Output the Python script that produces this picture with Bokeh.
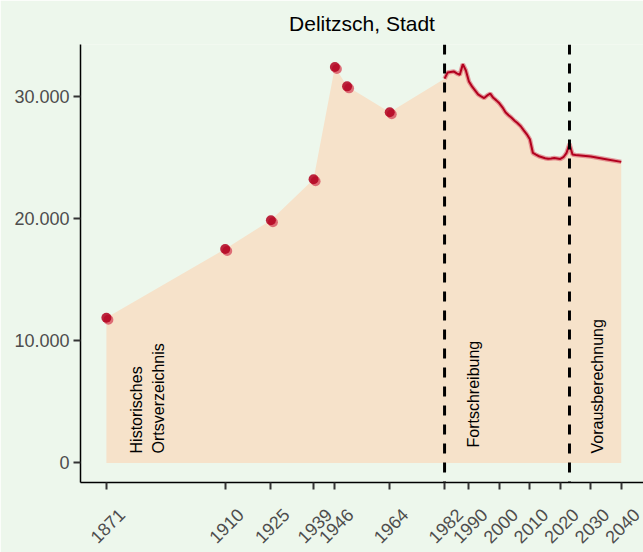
import math
from bokeh.plotting import figure
from bokeh.models import Range1d, FixedTicker, Span, ColumnDataSource, LinearAxis
from bokeh.core.properties import value
from bokeh.embed import file_html
from bokeh.resources import INLINE

# ---- data ----
title_text = "Delitzsch, Stadt"

hist_years = [1871, 1910, 1925, 1939, 1946, 1950, 1964]
hist_pop = [11900, 17540, 19900, 23260, 32460, 30870, 28740]

fort_years = list(range(1982, 2024))
fort_pop = [31500, 32010, 32050, 32090, 31930, 31820, 32690, 32170, 31270, 30870,
            30540, 30210, 30050, 29910, 30130, 30270, 29930, 29720, 29480, 29150,
            28740, 28500, 28290, 28050, 27840, 27600, 27260, 26940, 26530, 25410,
            25270, 25140, 25060, 24980, 24940, 24960, 25000, 24960, 24920, 25060,
            25390, 26150]

proj_years = [2024, 2025, 2030, 2035, 2040]
proj_pop = [25280, 25240, 25120, 24900, 24680]

x_ticks = [1871, 1910, 1925, 1939, 1946, 1964, 1982, 1990, 2000, 2010, 2020, 2030, 2040]
x_tick_labels = [str(y) for y in x_ticks]
y_ticks = [0, 10000, 20000, 30000]
y_tick_labels = ["0", "10.000", "20.000", "30.000"]

period_breaks = [1982, 2023]
period_labels = ["Historisches\nOrtsverzeichnis", "Fortschreibung", "Vorausberechnung"]
period_label_x = [1884.5, 1991.5, 2032.1]
period_label_y = [780, 1270, 780]

# ---- styling ----
BG = "#EDF7EC"
AREA = "#F6E2CA"
RED = "#B2001E"
LIGHT_RED = "#DA5F6B"
FONT = "Liberation Sans"
X0, X1 = 1862.5, 2047.3
Y0, Y1 = -1600, 34300
LABEL_SHIFT = 5.0  # years: moves the rotated label's end right so it is centred on its tick

p = figure(width=643, height=552, output_backend="svg", toolbar_location=None,
           x_range=Range1d(X0, X1), y_range=Range1d(Y0, Y1),
           min_border_left=80, min_border_right=0, min_border_top=43,
           min_border_bottom=70)
p.background_fill_color = BG
p.border_fill_color = BG
p.outline_line_color = None
p.grid.visible = False

p.title.text = title_text
p.title.align = "center"
p.title.text_font = FONT
p.title.text_font_size = "21px"
p.title.text_font_style = "normal"
p.title.text_color = "black"
p.title.standoff = 19

all_years = hist_years + fort_years + proj_years
all_pop = hist_pop + fort_pop + proj_pop
p.varea(x=all_years, y1=[0] * len(all_years), y2=all_pop, fill_color=AREA)

line_years = fort_years + proj_years
line_pop = fort_pop + proj_pop
p.line(line_years, line_pop, line_color=LIGHT_RED, line_width=4.5, line_alpha=0.6)
p.line(line_years, line_pop, line_color=RED, line_width=2)

# points: lighter companion slightly offset, dark on top
dx_years = 2.0 / 3.047
dy_pop = 2.0 * 1000 / 12.23
p.extra_x_ranges["shift_x"] = Range1d(X0 - dx_years, X1 - dx_years)
p.extra_y_ranges["shift_y"] = Range1d(Y0 + dy_pop, Y1 + dy_pop)
p.scatter(hist_years, hist_pop, size=10, fill_color=LIGHT_RED, fill_alpha=0.9,
          line_color=None, x_range_name="shift_x", y_range_name="shift_y")
p.scatter(hist_years, hist_pop, size=10, fill_color=RED, fill_alpha=0.85, line_color=None)

for b in period_breaks:
    p.add_layout(Span(location=b, dimension="height", line_color="black",
                      line_width=3, line_dash="10 9"))

lab_src = ColumnDataSource(dict(x=period_label_x, y=period_label_y, t=period_labels))
p.text(x="x", y="y", text="t", source=lab_src, angle=math.pi / 2,
       text_align="left", text_baseline="middle", text_font=value(FONT),
       text_font_size="16px", text_color="black", text_line_height=1.25)

# axes
for ax in (p.xaxis[0], p.yaxis[0]):
    ax.axis_line_color = "black"
    ax.axis_line_width = 1.5
    ax.major_tick_line_color = "#333333"
    ax.major_tick_line_width = 2
    ax.major_tick_out = 7
    ax.major_tick_in = 0
    ax.minor_tick_line_color = None
    ax.major_label_text_font = FONT
    ax.major_label_text_font_size = "18px"
    ax.major_label_text_color = "#4D4D4D"

p.xaxis.ticker = FixedTicker(ticks=x_ticks)
p.xaxis.major_label_overrides = {t: "" for t in x_ticks}
p.xaxis.major_label_standoff = 0
p.xaxis.major_label_text_font_size = "1px"

# rotated tick labels on a label-only axis, shifted so each label is centred under its tick
p.extra_x_ranges["lab_x"] = Range1d(X0 - LABEL_SHIFT, X1 - LABEL_SHIFT)
lab_axis = LinearAxis(x_range_name="lab_x", ticker=FixedTicker(ticks=x_ticks),
                      axis_line_color=None, major_tick_line_color=None,
                      minor_tick_line_color=None, major_label_orientation=math.pi / 4,
                      major_label_standoff=16, major_label_text_font=FONT,
                      major_label_text_font_size="18px", major_label_text_color="#4D4D4D")
lab_axis.major_label_overrides = {t: l for t, l in zip(x_ticks, x_tick_labels)}
p.add_layout(lab_axis, "below")

p.yaxis.ticker = FixedTicker(ticks=y_ticks)
p.yaxis.major_label_overrides = {t: l for t, l in zip(y_ticks, y_tick_labels)}
p.yaxis.major_label_standoff = 4

open("out.html", "w").write(file_html(p, INLINE))
